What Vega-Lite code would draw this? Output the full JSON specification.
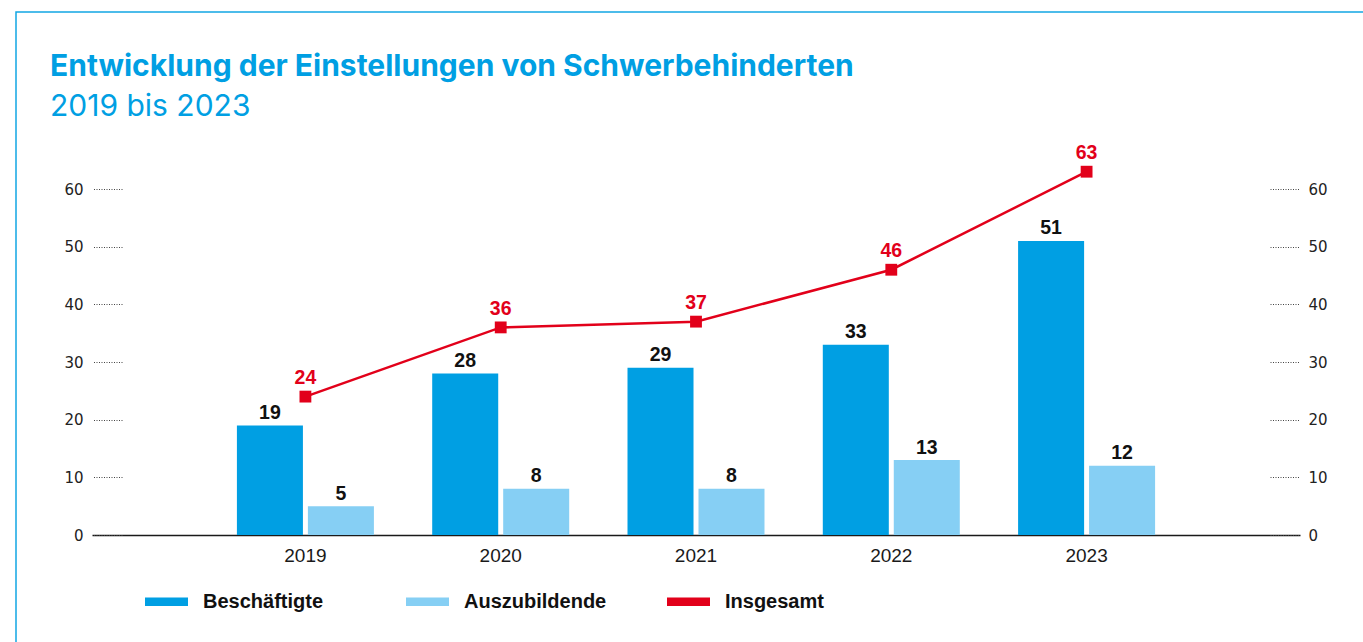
{
  "$schema": "https://vega.github.io/schema/vega-lite/v6.json",
  "width": 1355,
  "height": 636,
  "autosize": {"type": "none"},
  "padding": {"left": 16, "top": 12, "right": -8, "bottom": -6},
  "background": "white",
  "config": {
    "view": {"stroke": "#12A6E4", "strokeWidth": 1.5},
    "font": "Liberation Sans"
  },
  "title": {
    "text": "Entwicklung der Einstellungen von Schwerbehinderten",
    "subtitle": "2019 bis 2023",
    "anchor": "start",
    "frame": "group",
    "orient": "top",
    "offset": -110,
    "dx": 34,
    "font": "Inter",
    "fontSize": 30,
    "fontWeight": "bold",
    "color": "#009FE3",
    "subtitleFont": "Inter",
    "subtitleFontSize": 30,
    "subtitleFontWeight": "normal",
    "subtitleColor": "#009FE3",
    "subtitlePadding": 10
  },
  "data": {
    "values": [
      {"jahr": "2019", "reihe": "Beschäftigte", "wert": 19},
      {"jahr": "2020", "reihe": "Beschäftigte", "wert": 28},
      {"jahr": "2021", "reihe": "Beschäftigte", "wert": 29},
      {"jahr": "2022", "reihe": "Beschäftigte", "wert": 33},
      {"jahr": "2023", "reihe": "Beschäftigte", "wert": 51},
      {"jahr": "2019", "reihe": "Auszubildende", "wert": 5},
      {"jahr": "2020", "reihe": "Auszubildende", "wert": 8},
      {"jahr": "2021", "reihe": "Auszubildende", "wert": 8},
      {"jahr": "2022", "reihe": "Auszubildende", "wert": 13},
      {"jahr": "2023", "reihe": "Auszubildende", "wert": 12},
      {"jahr": "2019", "reihe": "Insgesamt", "wert": 24},
      {"jahr": "2020", "reihe": "Insgesamt", "wert": 36},
      {"jahr": "2021", "reihe": "Insgesamt", "wert": 37},
      {"jahr": "2022", "reihe": "Insgesamt", "wert": 46},
      {"jahr": "2023", "reihe": "Insgesamt", "wert": 63}
    ]
  },
  "layer": [
    {
      "transform": [{"filter": "datum.reihe !== 'Insgesamt'"}],
      "layer": [
        {
          "mark": {"type": "bar"},
          "encoding": {
            "x": {
              "field": "jahr", "type": "nominal",
              "scale": {"range": [76, 1284], "paddingInner": 0.2985, "paddingOuter": 0.742},
              "axis": {
                "orient": "bottom", "offset": -113, "title": null, "ticks": false,
                "domainColor": "#1a1a1a", "domainWidth": 1.5,
                "labelFontSize": 19, "labelPadding": 11, "labelColor": "#1a1a1a", "labelAngle": 0
              }
            },
            "xOffset": {
              "field": "reihe", "type": "nominal",
              "scale": {"domain": ["Beschäftigte", "Auszubildende"], "paddingInner": 0.07, "paddingOuter": 0}
            },
            "y": {
              "field": "wert", "type": "quantitative",
              "scale": {"domain": [0, 60], "range": [523, 177], "nice": false},
              "axis": {
                "orient": "left", "offset": -106, "title": null,
                "values": [0, 10, 20, 30, 40, 50, 60],
                "domain": false, "grid": false,
                "tickSize": 30, "tickDash": [1, 1.5], "tickColor": "#444", "tickWidth": 1,
                "labelPadding": 9, "labelFontSize": 15, "labelColor": "#222", "labelFont": "DejaVu Sans"
              }
            },
            "color": {
              "field": "reihe", "type": "nominal",
              "scale": {
                "domain": ["Beschäftigte", "Auszubildende", "Insgesamt"],
                "range": ["#009FE3", "#86CFF4", "#E2001A"]
              },
              "legend": {
                "orient": "none", "legendX": 129, "legendY": 568,
                "direction": "horizontal", "columns": 3, "title": null,
                "symbolType": "M-1,-0.2H1V0.2H-1Z", "symbolSize": 1849,
                "symbolStrokeWidth": 0,
                "labelFontSize": 20, "labelFontWeight": "bold", "labelColor": "#111",
                "labelOffset": 15, "gridAlign": "all", "columnPadding": 60, "labelLimit": 300
              }
            }
          }
        },
        {
          "mark": {"type": "text", "dy": -6.5, "baseline": "alphabetic", "fontSize": 19.5, "fontWeight": "bold", "color": "#111"},
          "encoding": {
            "x": {"field": "jahr", "type": "nominal"},
            "xOffset": {"field": "reihe", "type": "nominal"},
            "y": {"field": "wert", "type": "quantitative"},
            "text": {"field": "wert", "type": "quantitative"}
          }
        }
      ]
    },
    {
      "transform": [{"filter": "datum.reihe === 'Insgesamt'"}],
      "layer": [
        {
          "mark": {
            "type": "line", "color": "#E2001A", "strokeWidth": 2.5, "clip": false,
            "point": {"shape": "square", "size": 140, "filled": true, "color": "#E2001A", "opacity": 1}
          },
          "encoding": {
            "x": {"field": "jahr", "type": "nominal"},
            "y": {
              "field": "wert", "type": "quantitative",
              "scale": {"domain": [0, 60], "range": [523, 177], "nice": false},
              "axis": {
                "orient": "right", "offset": -101, "title": null,
                "values": [0, 10, 20, 30, 40, 50, 60],
                "domain": false, "grid": false,
                "tickSize": 30, "tickDash": [1, 1.5], "tickColor": "#444", "tickWidth": 1,
                "labelPadding": 8, "labelFontSize": 15, "labelColor": "#222", "labelFont": "DejaVu Sans"
              }
            }
          }
        },
        {
          "mark": {"type": "text", "dy": -12.5, "baseline": "alphabetic", "fontSize": 19.5, "fontWeight": "bold", "color": "#E2001A", "clip": false},
          "encoding": {
            "x": {"field": "jahr", "type": "nominal"},
            "y": {"field": "wert", "type": "quantitative"},
            "text": {"field": "wert", "type": "quantitative"}
          }
        }
      ]
    }
  ],
  "resolve": {"scale": {"y": "independent"}}
}
